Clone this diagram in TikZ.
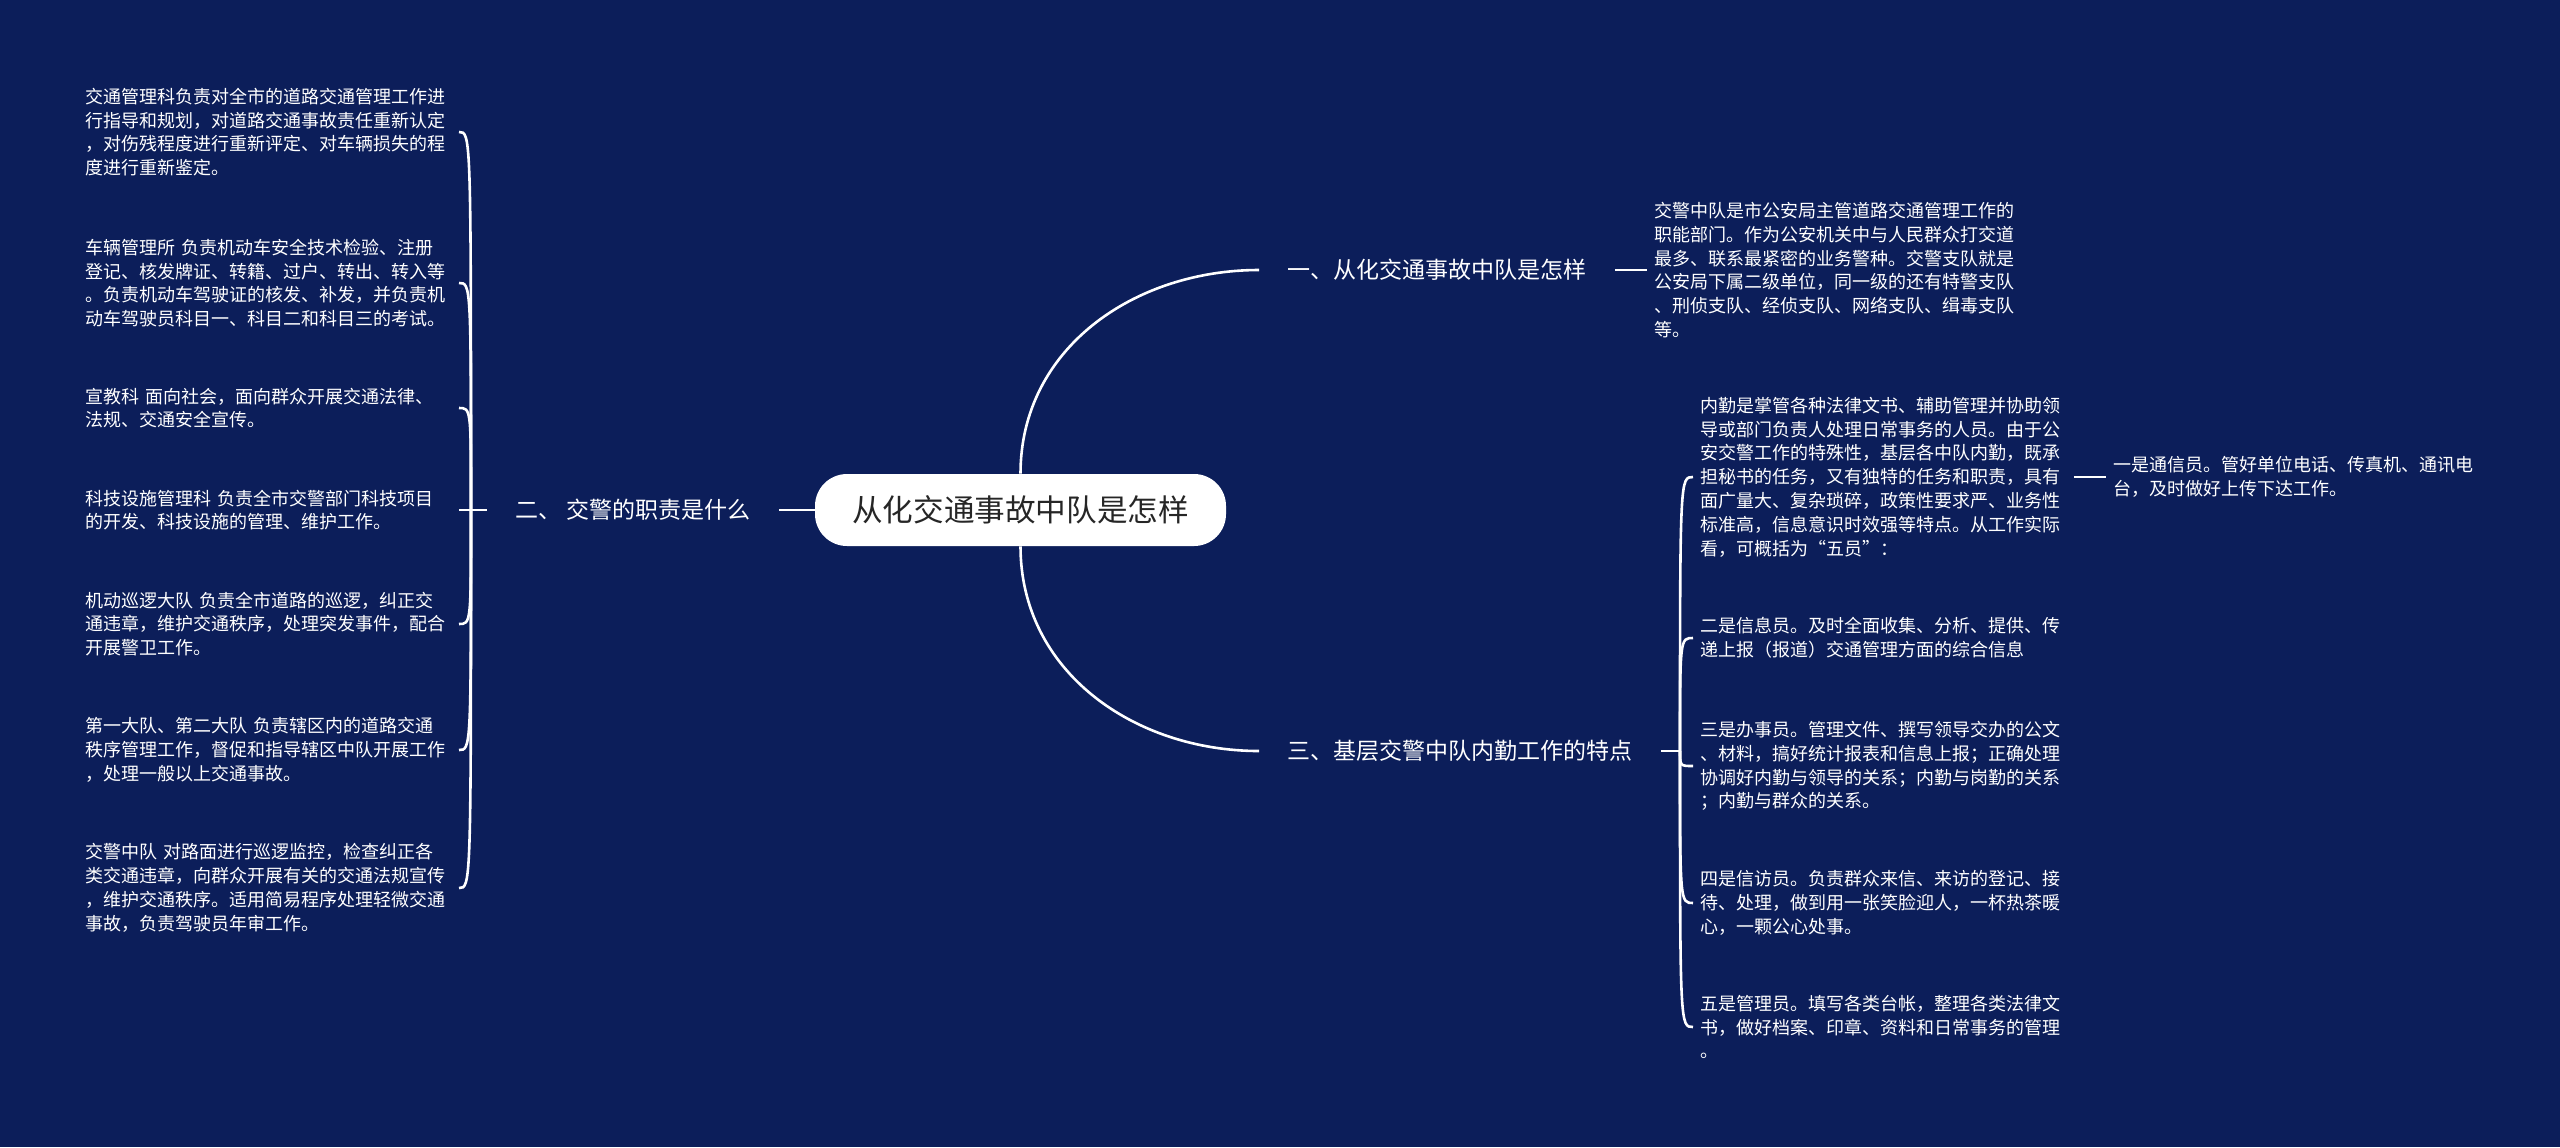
\documentclass[tikz,border=0pt]{standalone}
\usepackage{fontspec}
\usepackage{xcolor}
\usepackage{tikz}
\usetikzlibrary{positioning,calc}
\newfontfamily\cjk{Noto Sans CJK SC}
\definecolor{cNavy}{HTML}{0C1E5A}
\definecolor{cRootInk}{HTML}{262626}
\tikzset{
  rootbox/.style = {fill=white, rounded corners=16pt, minimum width=205.5pt,
                    minimum height=36pt, text=cRootInk,
                    font=\cjk\fontsize{15.3pt}{18pt}\selectfont},
  topic/.style   = {text=white, inner xsep=14pt, inner ysep=4pt,
                    font=\cjk\fontsize{11.5pt}{14pt}\selectfont},
  leaf/.style    = {text=white, align=left, text width=183pt,
                    inner xsep=3.5pt, inner ysep=2pt,
                    font=\cjk\fontsize{9pt}{11.9pt}\selectfont},
  link/.style    = {draw=white, line width=1.3pt},
}

\begin{document}
\begin{tikzpicture}[x=0.5pt, y=-0.5pt]
  \fill[cNavy] (0,0) rectangle (2560,1147);
  \useasboundingbox (0,0) rectangle (2560,1147);
  % ---- centre ----
  \node[rootbox] (root) at (1020.5,510) {从化交通事故中队是怎样};
  % ---- left: duties ----
  \node[topic, left=18pt of root] (b2) {二、 交警的职责是什么};
  \coordinate (lt) at (471,510);
  \node[leaf, anchor=east] (l1) at (459,132)
    {交通管理科负责对全市的道路交通管理工作进\\
     行指导和规划，对道路交通事故责任重新认定\\
     ，对伤残程度进行重新评定、对车辆损失的程\\
     度进行重新鉴定。};
  \node[leaf, anchor=east] (l2) at (459,283)
    {车辆管理所 负责机动车安全技术检验、注册\\
     登记、核发牌证、转籍、过户、转出、转入等\\
     。负责机动车驾驶证的核发、补发，并负责机\\
     动车驾驶员科目一、科目二和科目三的考试。};
  \node[leaf, anchor=east] (l3) at (459,408)
    {宣教科 面向社会，面向群众开展交通法律、\\
     法规、交通安全宣传。};
  \node[leaf, anchor=east] (l4) at (459,510)
    {科技设施管理科 负责全市交警部门科技项目\\
     的开发、科技设施的管理、维护工作。};
  \node[leaf, anchor=east] (l5) at (459,624)
    {机动巡逻大队 负责全市道路的巡逻，纠正交\\
     通违章，维护交通秩序，处理突发事件，配合\\
     开展警卫工作。};
  \node[leaf, anchor=east] (l6) at (459,750)
    {第一大队、第二大队 负责辖区内的道路交通\\
     秩序管理工作，督促和指导辖区中队开展工作\\
     ，处理一般以上交通事故。};
  \node[leaf, anchor=east] (l7) at (459,888)
    {交警中队 对路面进行巡逻监控，检查纠正各\\
     类交通违章，向群众开展有关的交通法规宣传\\
     ，维护交通秩序。适用简易程序处理轻微交通\\
     事故，负责驾驶员年审工作。};
  % ---- right, top ----
  \node[topic, anchor=west] (b1) at (1259,270) {一、从化交通事故中队是怎样};
  \node[leaf, right=16pt of b1] (r0)
    {交警中队是市公安局主管道路交通管理工作的\\
     职能部门。作为公安机关中与人民群众打交道\\
     最多、联系最紧密的业务警种。交警支队就是\\
     公安局下属二级单位，同一级的还有特警支队\\
     、刑侦支队、经侦支队、网络支队、缉毒支队\\
     等。};
  % ---- right, bottom ----
  \node[topic, anchor=west] (b3) at (1259,751) {三、基层交警中队内勤工作的特点};
  \coordinate (rt) at (1680,751);
  \node[leaf, anchor=west] (ra) at (1693,477)
    {内勤是掌管各种法律文书、辅助管理并协助领\\
     导或部门负责人处理日常事务的人员。由于公\\
     安交警工作的特殊性，基层各中队内勤，既承\\
     担秘书的任务，又有独特的任务和职责，具有\\
     面广量大、复杂琐碎，政策性要求严、业务性\\
     标准高，信息意识时效强等特点。从工作实际\\
     看，可概括为“五员”：};
  \node[leaf, right=16pt of ra] (ra1)
    {一是通信员。管好单位电话、传真机、通讯电\\
     台，及时做好上传下达工作。};
  \node[leaf, anchor=west] (rb) at (1693,638)
    {二是信息员。及时全面收集、分析、提供、传\\
     递上报（报道）交通管理方面的综合信息};
  \node[leaf, anchor=west] (rc) at (1693,766)
    {三是办事员。管理文件、撰写领导交办的公文\\
     、材料，搞好统计报表和信息上报；正确处理\\
     协调好内勤与领导的关系；内勤与岗勤的关系\\
     ；内勤与群众的关系。};
  \node[leaf, anchor=west] (rd) at (1693,903)
    {四是信访员。负责群众来信、来访的登记、接\\
     待、处理，做到用一张笑脸迎人，一杯热茶暖\\
     心，一颗公心处事。};
  \node[leaf, anchor=west] (re) at (1693,1027)
    {五是管理员。填写各类台帐，整理各类法律文\\
     书，做好档案、印章、资料和日常事务的管理\\
     。};
  % ---- connectors ----
  \draw[link] (root.west) -- (b2.east);
  \draw[link] (root.north) .. controls +(0,-125) and +(-125,0) .. (b1.west);
  \draw[link] (root.south) .. controls +(0,125) and +(-125,0) .. (b3.west);
  \draw[link] (b2.west) -- (lt);
  \draw[link] (lt) .. controls (lt |- l1.east) .. (l1.east);
  \draw[link] (lt) .. controls (lt |- l2.east) .. (l2.east);
  \draw[link] (lt) .. controls (lt |- l3.east) .. (l3.east);
  \draw[link] (lt) -- (l4.east);
  \draw[link] (lt) .. controls (lt |- l5.east) .. (l5.east);
  \draw[link] (lt) .. controls (lt |- l6.east) .. (l6.east);
  \draw[link] (lt) .. controls (lt |- l7.east) .. (l7.east);
  \draw[link] (b1.east) -- (r0.west);
  \draw[link] (b3.east) -- (rt);
  \draw[link] (rt) .. controls (rt |- ra.west) .. (ra.west);
  \draw[link] (rt) .. controls (rt |- rb.west) .. (rb.west);
  \draw[link] (rt) .. controls (rt |- rc.west) .. (rc.west);
  \draw[link] (rt) .. controls (rt |- rd.west) .. (rd.west);
  \draw[link] (rt) .. controls (rt |- re.west) .. (re.west);
  \draw[link] (ra.east) -- (ra1.west);
\end{tikzpicture}
\end{document}
